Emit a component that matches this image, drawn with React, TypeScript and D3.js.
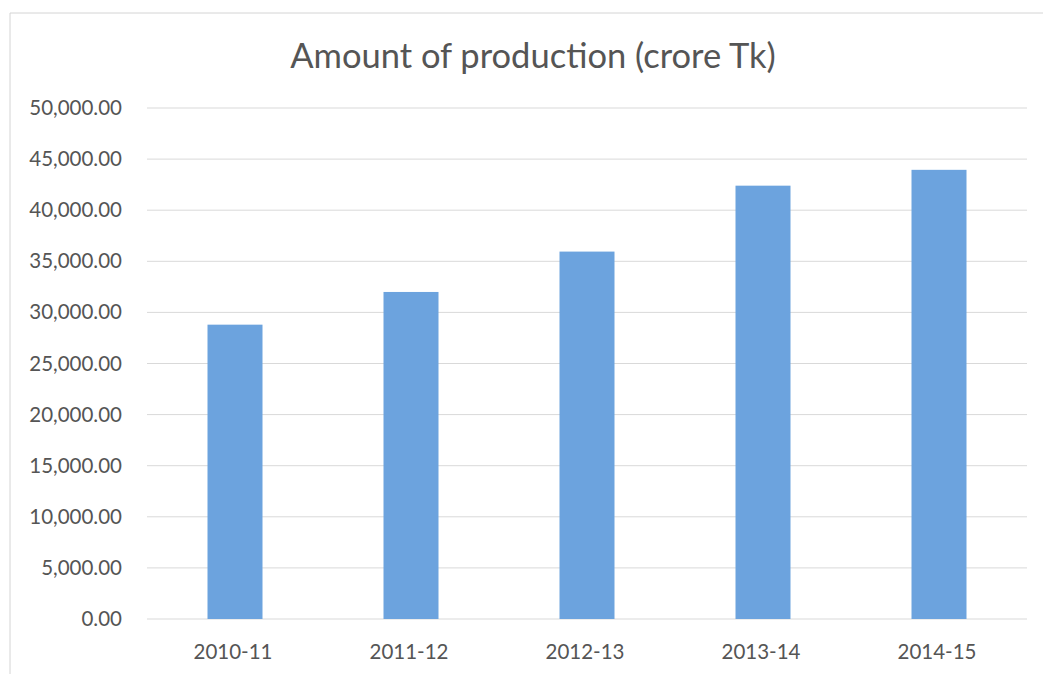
import React, { useEffect, useRef } from 'react';
import * as d3 from 'd3';

// Production by fiscal year (crore Tk)
const years = ['2010-11', '2011-12', '2012-13', '2013-14', '2014-15'];
const production = [28800, 32000, 35950, 42400, 43950];
const yTicks = [0, 5000, 10000, 15000, 20000, 25000, 30000, 35000, 40000, 45000, 50000];

export default function App() {
  const svgRef = useRef<SVGSVGElement>(null);

  useEffect(() => {
    if (!svgRef.current) return;
    const width = 1043;
    const height = 674;
    const plot = { left: 147, right: 1027, top: 108, bottom: 619 };
    const font = 'Lato, "Open Sans", sans-serif';
    const textColor = '#555555';

    const svg = d3.select(svgRef.current);
    svg.selectAll('*').remove();
    svg.attr('width', width).attr('height', height).style('background', '#fff');

    // faint chart border (top and left visible)
    svg.append('path')
      .attr('d', `M10,${height} L10,13 L${width},13`)
      .attr('fill', 'none')
      .attr('stroke', '#d4d4d4')
      .attr('stroke-width', 1);

    const x = d3.scaleBand<string>()
      .domain(years)
      .range([plot.left, plot.right])
      .paddingInner(0.6875)
      .paddingOuter(0.34375);

    const y = d3.scaleLinear().domain([0, 50000]).range([plot.bottom, plot.top]);

    // gridlines
    svg.append('g')
      .selectAll('line')
      .data(yTicks)
      .join('line')
      .attr('x1', plot.left)
      .attr('x2', plot.right)
      .attr('y1', d => y(d))
      .attr('y2', d => y(d))
      .attr('stroke', '#d9d9d9')
      .attr('stroke-width', 1);

    // y tick labels
    const fmt = d3.format(',.2f');
    svg.append('g')
      .selectAll('text')
      .data(yTicks)
      .join('text')
      .attr('x', 122)
      .attr('y', d => y(d) + 7)
      .attr('text-anchor', 'end')
      .attr('font-family', font)
      .attr('font-size', 20.5)
      .attr('fill', textColor)
      .text(d => fmt(d));

    // bars
    svg.append('g')
      .selectAll('rect')
      .data(years)
      .join('rect')
      .attr('x', d => x(d)!)
      .attr('width', x.bandwidth())
      .attr('y', (d, i) => y(production[i]))
      .attr('height', (d, i) => y(0) - y(production[i]))
      .attr('fill', '#6ca3de');

    // x labels
    svg.append('g')
      .selectAll('text')
      .data(years)
      .join('text')
      .attr('x', d => x(d)! + x.bandwidth() / 2 - 2)
      .attr('y', 659)
      .attr('text-anchor', 'middle')
      .attr('font-family', font)
      .attr('font-size', 20.5)
      .attr('fill', textColor)
      .text(d => d);

    // title
    svg.append('text')
      .attr('x', 533)
      .attr('y', 68)
      .attr('text-anchor', 'middle')
      .attr('font-family', font)
      .attr('font-size', 34.5)
      .attr('fill', textColor)
      .text('Amount of production (crore Tk)');
  }, []);

  return (
    <div style={{ position: 'absolute', left: 0, top: 0 }}>
      <svg ref={svgRef}></svg>
    </div>
  );
}
